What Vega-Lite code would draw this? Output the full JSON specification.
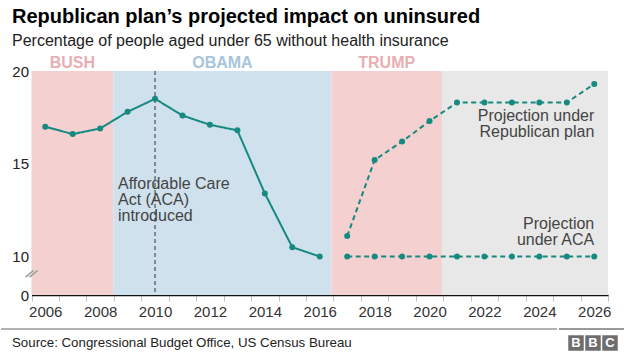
{
  "$schema": "https://vega.github.io/schema/vega-lite/v6.json",
  "padding": {"left": 0, "top": 7, "right": 0, "bottom": 0},
  "background": "white",
  "config": {"font": "Liberation Sans", "view": {"stroke": null}, "axis": {"grid": false}},
  "title": {
    "text": "Republican plan’s projected impact on uninsured",
    "subtitle": "Percentage of people aged under 65 without health insurance",
    "anchor": "start",
    "frame": "group",
    "dx": 11,
    "font": "Liberation Sans",
    "fontSize": 20,
    "fontWeight": "bold",
    "color": "#000000",
    "subtitleFont": "Liberation Sans",
    "subtitleFontSize": 16,
    "subtitleColor": "#222222",
    "subtitlePadding": 6,
    "offset": 6
  },
  "datasets": {
    "eras": [
      {"era": "Bush", "start": 2005.5, "end": 2008.48, "label": "BUSH"},
      {"era": "Obama", "start": 2008.48, "end": 2016.43, "label": "OBAMA"},
      {"era": "Trump", "start": 2016.43, "end": 2020.45, "label": "TRUMP"},
      {"era": "Projection", "start": 2020.45, "end": 2026.5, "label": ""}
    ],
    "events": [{"year": 2010, "event": "ACA introduced"}],
    "uninsured": [
      {"year": 2006, "pct": 17.0, "series": "Actual"},
      {"year": 2007, "pct": 16.6, "series": "Actual"},
      {"year": 2008, "pct": 16.9, "series": "Actual"},
      {"year": 2009, "pct": 17.8, "series": "Actual"},
      {"year": 2010, "pct": 18.5, "series": "Actual"},
      {"year": 2011, "pct": 17.6, "series": "Actual"},
      {"year": 2012, "pct": 17.1, "series": "Actual"},
      {"year": 2013, "pct": 16.8, "series": "Actual"},
      {"year": 2014, "pct": 13.4, "series": "Actual"},
      {"year": 2015, "pct": 10.5, "series": "Actual"},
      {"year": 2016, "pct": 10.0, "series": "Actual"},
      {"year": 2017, "pct": 11.1, "series": "Republican plan"},
      {"year": 2018, "pct": 15.2, "series": "Republican plan"},
      {"year": 2019, "pct": 16.2, "series": "Republican plan"},
      {"year": 2020, "pct": 17.3, "series": "Republican plan"},
      {"year": 2021, "pct": 18.3, "series": "Republican plan"},
      {"year": 2022, "pct": 18.3, "series": "Republican plan"},
      {"year": 2023, "pct": 18.3, "series": "Republican plan"},
      {"year": 2024, "pct": 18.3, "series": "Republican plan"},
      {"year": 2025, "pct": 18.3, "series": "Republican plan"},
      {"year": 2026, "pct": 19.3, "series": "Republican plan"},
      {"year": 2017, "pct": 10.0, "series": "ACA"},
      {"year": 2018, "pct": 10.0, "series": "ACA"},
      {"year": 2019, "pct": 10.0, "series": "ACA"},
      {"year": 2020, "pct": 10.0, "series": "ACA"},
      {"year": 2021, "pct": 10.0, "series": "ACA"},
      {"year": 2022, "pct": 10.0, "series": "ACA"},
      {"year": 2023, "pct": 10.0, "series": "ACA"},
      {"year": 2024, "pct": 10.0, "series": "ACA"},
      {"year": 2025, "pct": 10.0, "series": "ACA"},
      {"year": 2026, "pct": 10.0, "series": "ACA"}
    ],
    "notesLeft": [
      {"year": 2008.65, "pct": 13.89, "note": "Affordable Care\nAct (ACA)\nintroduced"}
    ],
    "notesRight": [
      {"year": 2026, "pct": 17.57, "note": "Projection under\nRepublican plan"},
      {"year": 2026, "pct": 11.74, "note": "Projection\nunder ACA"}
    ]
  },
  "vconcat": [
    {
      "width": 607,
      "height": 224,
      "layer": [
        {
          "data": {"name": "eras"},
          "mark": {"type": "rect"},
          "encoding": {
            "x": {
              "field": "start", "type": "quantitative",
              "scale": {"domain": [2005.5, 2026.5], "range": [30.5, 607], "nice": false, "zero": false},
              "axis": {
                "orient": "bottom",
                "values": [2005.5, 2006.5, 2007.5, 2008.5, 2009.5, 2010.5, 2011.5, 2012.5, 2013.5, 2014.5, 2015.5, 2016.5, 2017.5, 2018.5, 2019.5, 2020.5, 2021.5, 2022.5, 2023.5, 2024.5, 2025.5, 2026.5],
                "labels": false, "ticks": true, "tickColor": "#c4c4c4", "tickSize": 6, "tickWidth": 1,
                "domain": true, "domainColor": "#111111", "domainWidth": 1.5, "title": null, "grid": false
              }
            },
            "x2": {"field": "end"},
            "fill": {
              "field": "era", "type": "nominal",
              "scale": {"domain": ["Bush", "Obama", "Trump", "Projection"], "range": ["#f4d0d1", "#cfe1ec", "#f4d0d1", "#e8e8e8"]},
              "legend": null
            }
          }
        },
        {
          "data": {"name": "eras"},
          "transform": [
            {"filter": "datum.label != ''"},
            {"calculate": "(datum.start + datum.end) / 2", "as": "mid"}
          ],
          "mark": {"type": "text", "fontSize": 16, "fontWeight": "bold", "baseline": "alphabetic", "dy": -3},
          "encoding": {
            "x": {"field": "mid", "type": "quantitative", "axis": null},
            "y": {"datum": 20},
            "text": {"field": "label"},
            "color": {
              "field": "era", "type": "nominal",
              "scale": {"domain": ["Bush", "Obama", "Trump"], "range": ["#e9aeb1", "#a9c5dc", "#e9aeb1"]},
              "legend": null
            }
          }
        },
        {
          "data": {"name": "events"},
          "mark": {"type": "rule", "strokeDash": [4, 3], "color": "#333333", "strokeWidth": 1},
          "encoding": {
            "x": {"field": "year", "type": "quantitative", "axis": null}
          }
        },
        {
          "data": {"name": "uninsured"},
          "mark": {"type": "line", "strokeWidth": 2, "color": "#168980"},
          "encoding": {
            "x": {
              "field": "year", "type": "quantitative",
              "axis": {
                "orient": "bottom",
                "values": [2006, 2008, 2010, 2012, 2014, 2016, 2018, 2020, 2022, 2024, 2026],
                "format": "d", "ticks": false, "tickSize": 0, "domain": false,
                "labelFontSize": 15, "labelColor": "#333333", "labelPadding": 9,
                "labelFlush": false, "labelOverlap": false, "title": null, "grid": false
              }
            },
            "y": {
              "field": "pct", "type": "quantitative",
              "scale": {"domain": [0, 10, 20], "range": [224, 185.5, 0], "nice": false, "zero": false},
              "axis": {
                "values": [0, 10, 15, 20], "domain": false, "ticks": false, "offset": -30.5,
                "labelFontSize": 15, "labelColor": "#222222", "labelPadding": 3,
                "title": null, "grid": false
              }
            },
            "strokeDash": {
              "field": "series", "type": "nominal",
              "scale": {"domain": ["Actual", "Republican plan", "ACA"], "range": [[1, 0], [5, 3.5], [5, 3.5]]},
              "legend": null
            }
          }
        },
        {
          "data": {"name": "uninsured"},
          "mark": {"type": "point", "filled": true, "size": 36, "opacity": 1, "color": "#168980"},
          "encoding": {
            "x": {"field": "year", "type": "quantitative", "axis": null},
            "y": {"field": "pct", "type": "quantitative"}
          }
        },
        {
          "data": {"name": "notesLeft"},
          "mark": {"type": "text", "align": "left", "baseline": "middle", "fontSize": 16, "lineHeight": 16, "lineBreak": "\n", "color": "#444444"},
          "encoding": {
            "x": {"field": "year", "type": "quantitative", "axis": null},
            "y": {"field": "pct", "type": "quantitative"},
            "text": {"field": "note"}
          }
        },
        {
          "data": {"name": "notesRight"},
          "mark": {"type": "text", "align": "right", "baseline": "middle", "fontSize": 16, "lineHeight": 16, "lineBreak": "\n", "color": "#444444"},
          "encoding": {
            "x": {"field": "year", "type": "quantitative", "axis": null},
            "y": {"field": "pct", "type": "quantitative"},
            "text": {"field": "note"}
          }
        },
        {
          "data": {"values": [{"marker": "axis break"}]},
          "mark": {"type": "point", "shape": "M-1,0.55L0.33,-0.55M-0.33,0.55L1,-0.55", "size": 144, "filled": false, "stroke": "#999999", "strokeWidth": 1.5, "opacity": 1},
          "encoding": {
            "x": {"datum": 2005.5, "type": "quantitative", "axis": null},
            "y": {"datum": 5.5, "type": "quantitative"}
          }
        }
      ],
      "resolve": {"axis": {"x": "independent"}}
    },
    {
      "hconcat": [
        {
          "width": 556,
          "height": 28,
          "data": {"values": [{"source": "Source: Congressional Budget Office, US Census Bureau"}]},
          "layer": [
            {
              "mark": {"type": "rule", "color": "#999999", "strokeWidth": 1.5},
              "encoding": {
                "x": {"datum": 0, "type": "quantitative", "scale": {"domain": [0, 1], "nice": false}, "axis": null},
                "x2": {"datum": 1},
                "y": {"datum": 1, "type": "quantitative", "scale": {"domain": [0, 1], "nice": false}, "axis": null}
              }
            },
            {
              "mark": {"type": "text", "align": "left", "baseline": "middle", "fontSize": 13.3, "color": "#222222", "dx": 11},
              "encoding": {
                "x": {"datum": 0, "type": "quantitative", "axis": null},
                "text": {"field": "source"}
              }
            }
          ]
        },
        {
          "width": 68,
          "height": 28,
          "data": {"values": [{"slot": 1, "letter": "B"}, {"slot": 2, "letter": "B"}, {"slot": 3, "letter": "C"}]},
          "layer": [
            {
              "mark": {"type": "rule", "color": "#999999", "strokeWidth": 1.5},
              "encoding": {
                "x": {"datum": 0, "type": "quantitative", "scale": {"domain": [0, 4], "nice": false}, "axis": null},
                "x2": {"datum": 4},
                "y": {"datum": 1, "type": "quantitative", "scale": {"domain": [0, 1], "nice": false}, "axis": null}
              }
            },
            {
              "mark": {"type": "square", "size": 240, "filled": true, "color": "#6e6e6e", "opacity": 1},
              "encoding": {
                "x": {"field": "slot", "type": "quantitative", "axis": null}
              }
            },
            {
              "mark": {"type": "text", "color": "#ffffff", "fontWeight": "bold", "fontSize": 13, "baseline": "middle"},
              "encoding": {
                "x": {"field": "slot", "type": "quantitative", "axis": null},
                "text": {"field": "letter"}
              }
            }
          ]
        }
      ],
      "spacing": 0
    }
  ],
  "spacing": 9
}
